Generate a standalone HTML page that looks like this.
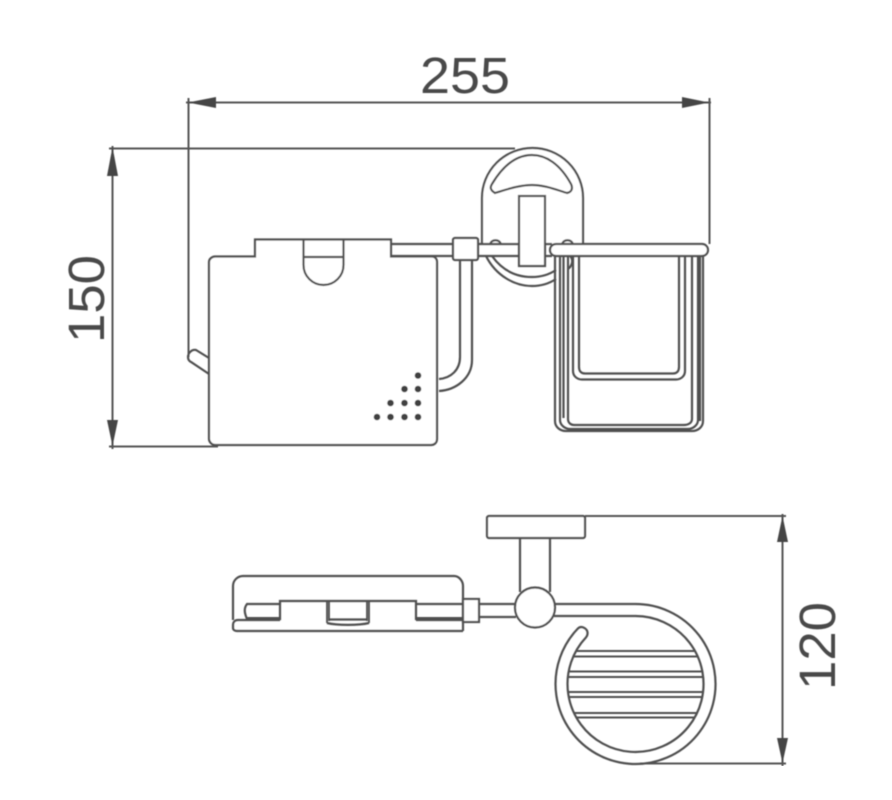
<!DOCTYPE html>
<html><head><meta charset="utf-8"><style>
html,body{margin:0;padding:0;background:#fff}
svg{display:block}
text{font-family:"Liberation Sans",sans-serif;font-size:51px;fill:#4a4a4a}
</style></head><body>
<svg width="892" height="800" viewBox="0 0 892 800" xmlns="http://www.w3.org/2000/svg">
<defs>
<clipPath id="c"><circle cx="635.5" cy="684" r="68"/></clipPath>
<filter id="b" x="0" y="0" width="100%" height="100%"><feGaussianBlur stdDeviation="0.45"/></filter>
</defs>
<rect width="892" height="800" fill="#fff"/>
<g filter="url(#b)">
<g fill="none" stroke="#555" stroke-width="2">
<!-- dimension lines -->
<path d="M186 102.500H711M188.500 98V357M709.500 98V244"/>
<path d="M109 148.500H515M112.500 146V449M109 446.500H218"/>
<path d="M585 516H786M782.500 514V766M640 763.500H786"/>
</g>
<g fill="#444" stroke="none">
<path d="M188 102.500L216 97V108Z"/>
<path d="M709 102.500L682 97V108Z"/>
<path d="M112.500 147L107 176H118Z"/>
<path d="M112.500 446L107 420H118Z"/>
<path d="M782.500 516L777 542H788Z"/>
<path d="M782.500 763L777 738H788Z"/>
</g>
<text x="420" y="93" textLength="90" lengthAdjust="spacingAndGlyphs">255</text>
<text transform="translate(104 343) rotate(-90)" textLength="88" lengthAdjust="spacingAndGlyphs">150</text>
<text transform="translate(835 690) rotate(-90)" textLength="88" lengthAdjust="spacingAndGlyphs">120</text>

<g fill="none" stroke="#505050" stroke-width="2.200">
<!-- backplate oval -->
<path fill="#fff" d="M482 244V198A50.500 50 0 0 1 583 198V244"/>
<path d="M486 256C496 276 515 286 532 286C543 286 550 283 556 279"/>
<path d="M492 256C502 270 516 277 532 277C542 277 550 274 556 270"/>
<path d="M495 193C490 190 490 187 492 184C504 164 518 155 532 155C546 155 560 164 571 184C573 188 572 192 567 193C557 190 545 185 532 185C519 185 505 190 495 193Z"/>
<path d="M490 244C492 239 499 239 501 244M562 244C564 239 571 239 573 244"/>
<path d="M570 256C574 260 572 266 568 269"/>
<!-- holder arm -->
<path d="M391 244H454M391 256H454M478 244H519M478 256H519M545 244H552M545 256H552"/>
<path d="M460 260V357C460 370 451 378 439 379"/>
<path d="M472 260V360C472 378 456 390 439 391"/>
<rect x="453" y="238" width="25" height="22" rx="2" fill="#fff"/>
<!-- foot -->
<path d="M209 358L196 350C192 349 188 353 188 357C188 359 189 361 191 362L209 374"/>
<!-- body -->
<path fill="#fff" d="M255 256.500V239.500H391V256.500H432C435 256.500 437 259 437 262V439C437 443 434 445 431 445H215C212 445 209 442 209 439V262C209 259 212 256.500 215 256.500Z"/>
<path d="M303.500 240V265A20 20 0 0 0 343.500 265V240M303.500 257H343.500"/>
<!-- center block -->
<rect x="519" y="196" width="26" height="70" fill="#fff"/>
<!-- basket -->
<path d="M555 256V421C555 427 560 431 566 431H692C698 431 703 427 703 421V256"/>
<path d="M560 256V420C560 425 565 429 570 429H688C693 429 698 425 698 420V256"/>
<path d="M563.500 256V418"/>
<path d="M568 256V419C568 423 571 425 574 425H684C688 425 692 423 692 419V256"/>
<path d="M700 256V421"/>
<path d="M573 256V371C573 376 577 379.500 582 379.500H676C681 379.500 685 376 685 371V256"/>
<path d="M579 256V367C579 371 581 373.500 585 373.500H673C677 373.500 679 371 679 367V256"/>
<rect x="550" y="244" width="158" height="12" rx="6" fill="#fff"/>
</g>
<!-- dots -->
<g fill="#3f3f3f">
<circle cx="418" cy="375.500" r="3.300"/>
<circle cx="404.500" cy="389" r="3.300"/><circle cx="418" cy="389" r="3.300"/>
<circle cx="390.500" cy="403" r="3.300"/><circle cx="404.500" cy="403" r="3.300"/><circle cx="418" cy="403" r="3.300"/>
<circle cx="377" cy="417" r="3.300"/><circle cx="390.500" cy="417" r="3.300"/><circle cx="404.500" cy="417" r="3.300"/><circle cx="418" cy="417" r="3.300"/>
</g>

<g fill="none" stroke="#505050" stroke-width="2.200">
<!-- lower: wall plate and post -->
<rect x="487" y="516" width="98" height="22" rx="2" fill="#fff"/>
<path d="M520 538V592M550 538V592"/>
<!-- tray -->
<path d="M233 620V586C233 580 238 576 243 576H454C459 576 463 581 463 586V631"/>
<path d="M280 620H238C235 620 233 622 233 625V628C233 630 235 631 237 631H463M416 620H463"/>
<path d="M280 604V601H416V604"/>
<path d="M247 604H280V619H247C244 612 244 608 247 604Z"/>
<path d="M416 604H463M416 604V619H463"/>
<path d="M247 618.500H280M416 618.500H463" stroke-width="3"/>
<path d="M327 601V623M329 601V621M367 601V621M369 601V623" stroke-width="1.800"/>
<path d="M327 623C337 625.500 359 625.500 369 623M329 619.500H367"/>
<!-- sleeve -->
<rect x="463" y="599" width="16" height="23" fill="#fff"/>
<path d="M479 604H516M479 617H516"/>
<circle cx="535" cy="607.500" r="20" fill="#fff"/>
<!-- ring -->
<path d="M554 604H635.500A80 80 0 1 1 578 628.400C581 625.500 585 627.500 587 630.500C588 633 588 635 586 637.400A68 68 0 1 0 635.500 616H554"/>
<g clip-path="url(#c)" stroke-width="2">
<path d="M560 651H710M560 656.500H710M560 671.500H710M560 677H710M560 692H710M560 697H710M560 713H710M560 717.500H710"/>
</g>
</g>
</g>
</svg>
</body></html>
